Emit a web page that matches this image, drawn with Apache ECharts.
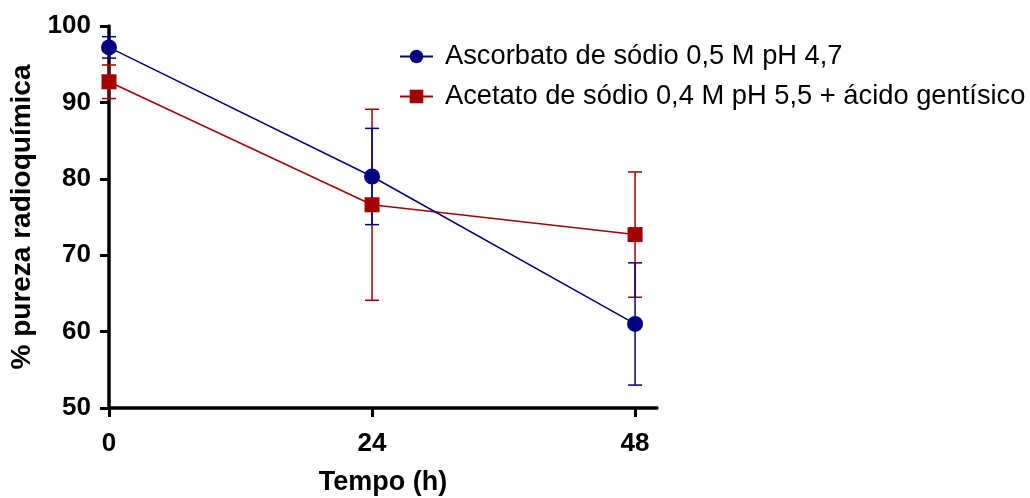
<!DOCTYPE html>
<html>
<head>
<meta charset="utf-8">
<script src="https://cdn.jsdelivr.net/npm/echarts@6/dist/echarts.min.js"></script>
<style>
  html, body { margin: 0; padding: 0; background: #fff; }
  #chart { width: 1030px; height: 498px; }
</style>
</head>
<body>
<div id="chart"></div>
<script>
// Tempo (h)
const hours = [0, 24, 48];
const xTicks = [0, 24, 48];

// Ascorbato de sódio 0,5 M pH 4,7: mean and error
const ascorbatoMean = [97.2, 80.3, 61.0];
const ascorbatoErr = [1.4, 6.3, 8.0];

// Acetato de sódio 0,4 M pH 5,5 + ácido gentísico: mean and error
const acetatoMean = [92.7, 76.6, 72.7];
const acetatoErr = [2.2, 12.5, 8.2];

const seriesNames = [
  'Ascorbato de sódio 0,5 M pH 4,7',
  'Acetato de sódio 0,4 M pH 5,5 + ácido gentísico'
];
const BLUE = '#000080';
const RED = '#a50000';
const FONT = 'Liberation Sans, Arial, sans-serif';

function pairs(means) {
  return hours.map((h, i) => [h, means[i]]);
}
function bars(means, errs) {
  return hours.map((h, i) => [h, means[i] - errs[i], means[i] + errs[i]]);
}

function errorBarSeries(id, data, color, z) {
  return {
    type: 'custom',
    id: id,
    name: id,
    data: data,
    z: z,
    encode: { x: 0, y: [1, 2] },
    renderItem: function (params, api) {
      const lo = api.coord([api.value(0), api.value(1)]);
      const hi = api.coord([api.value(0), api.value(2)]);
      const w = 7;
      const style = { stroke: color, lineWidth: 1.5, fill: null };
      return {
        type: 'group',
        children: [
          { type: 'line', shape: { x1: lo[0], y1: lo[1], x2: hi[0], y2: hi[1] }, style: style },
          { type: 'line', shape: { x1: lo[0] - w, y1: lo[1], x2: lo[0] + w, y2: lo[1] }, style: style },
          { type: 'line', shape: { x1: hi[0] - w, y1: hi[1], x2: hi[0] + w, y2: hi[1] }, style: style }
        ]
      };
    }
  };
}

const chart = echarts.init(document.getElementById('chart'), null, { renderer: 'canvas' });
chart.setOption({
  animation: false,
  backgroundColor: '#fff',
  grid: { left: 109, top: 26, right: 373, bottom: 90, containLabel: false, outerBoundsMode: 'none' },
  legend: {
    orient: 'vertical',
    left: 394,
    top: 38,
    itemWidth: 33,
    itemHeight: 17,
    itemGap: 13,
    data: seriesNames,
    textStyle: { fontFamily: FONT, fontSize: 27.3, color: '#000', padding: [0, 0, 0, 7], lineHeight: 27 }
  },
  xAxis: {
    type: 'value',
    min: 0,
    max: 50,
    interval: 24,
    name: 'Tempo (h)',
    nameLocation: 'middle',
    nameGap: 61,
    nameTextStyle: { fontFamily: FONT, fontSize: 27, fontWeight: 'bold', color: '#000' },
    axisLine: { onZero: false, lineStyle: { color: '#000', width: 3.5 } },
    axisTick: { show: true, length: 9, lineStyle: { color: '#000', width: 3 }, customValues: xTicks },
    axisLabel: { fontFamily: FONT, fontSize: 26, fontWeight: 'bold', color: '#000', margin: 23, customValues: xTicks },
    splitLine: { show: false }
  },
  yAxis: {
    type: 'value',
    min: 50,
    max: 100,
    interval: 10,
    name: '% pureza radioquímica',
    nameLocation: 'middle',
    nameGap: 72,
    nameTextStyle: { fontFamily: FONT, fontSize: 28, fontWeight: 'bold', color: '#000' },
    axisLine: { show: true, lineStyle: { color: '#000', width: 3.5 } },
    axisTick: { show: true, length: 9, lineStyle: { color: '#000', width: 3 } },
    axisLabel: { fontFamily: FONT, fontSize: 26, fontWeight: 'bold', color: '#000', margin: 18 },
    splitLine: { show: false }
  },
  series: [
    errorBarSeries('acetatoErrorBars', bars(acetatoMean, acetatoErr), RED, 2),
    errorBarSeries('ascorbatoErrorBars', bars(ascorbatoMean, ascorbatoErr), BLUE, 3),
    {
      type: 'line',
      name: seriesNames[1],
      data: pairs(acetatoMean),
      symbol: 'rect',
      symbolSize: 15,
      z: 4,
      lineStyle: { color: RED, width: 1.5 },
      itemStyle: { color: RED }
    },
    {
      type: 'line',
      name: seriesNames[0],
      data: pairs(ascorbatoMean),
      symbol: 'circle',
      symbolSize: 16,
      z: 5,
      lineStyle: { color: BLUE, width: 1.5 },
      itemStyle: { color: BLUE }
    }
  ]
});
</script>
</body>
</html>
